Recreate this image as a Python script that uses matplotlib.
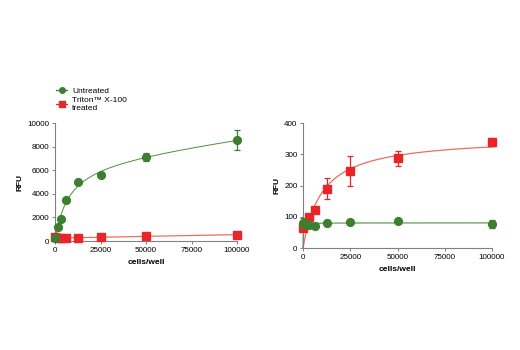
import numpy as np
import matplotlib
matplotlib.use("Agg")
import matplotlib.pyplot as plt
from matplotlib.lines import Line2D

plt.rcParams['font.family'] = ['Liberation Sans Narrow', 'Liberation Sans', 'DejaVu Sans']

cells = [0, 1562, 3125, 6250, 12500, 25000, 50000, 100000]

# Left panel
left_untreated = [250, 1200, 1850, 3450, 5000, 5600, 7100, 8550]
left_untreated_err = [0, 0, 0, 0, 0, 0, 350, 850]
left_triton = [300, 280, 250, 250, 230, 300, 400, 550]
left_triton_err = [0, 0, 0, 0, 0, 0, 0, 0]

# Right panel
right_untreated = [80, 78, 75, 72, 80, 82, 87, 78]
right_untreated_err = [15, 0, 0, 0, 10, 0, 0, 13]
right_triton = [65, 80, 100, 122, 190, 245, 287, 340]
right_triton_err = [10, 0, 0, 0, 33, 48, 23, 12]

GREEN = '#3c7f2f'
RED = '#e8262a'
GREEN_LINE = '#4f8f3a'
RED_LINE = '#f36b5a'
SPINE = '#808080'


def fit_hyper(x, y, linear=False):
    x = np.asarray(x, float)
    y = np.asarray(y, float)
    best = None
    for kd in np.logspace(1, 6, 600):
        cols = [x / (kd + x)]
        if linear:
            cols.append(x)
        A = np.column_stack(cols)
        coef, *_ = np.linalg.lstsq(A, y, rcond=None)
        r = np.sum((A @ coef - y) ** 2)
        if best is None or r < best[0]:
            best = (r, kd, coef)
    _, kd, coef = best

    def f(xx):
        out = coef[0] * xx / (kd + xx)
        if linear:
            out = out + coef[1] * xx
        return out
    return f


fig = plt.figure(figsize=(5.2, 3.5), dpi=100)
axL = fig.add_axes([0.1058, 0.3114, 0.35, 0.337])
axR = fig.add_axes([0.5827, 0.2914, 0.3635, 0.357])

xx = np.linspace(0, 100000, 800)


def style(ax, ylim, yticks):
    ax.set_xlim(0, 100000)
    ax.set_ylim(*ylim)
    ax.set_xticks([0, 25000, 50000, 75000, 100000])
    ax.set_yticks(yticks)
    for s in ['top', 'right']:
        ax.spines[s].set_visible(False)
    for s in ['left', 'bottom']:
        ax.spines[s].set_color(SPINE)
        ax.spines[s].set_linewidth(0.8)
    ax.tick_params(axis='both', labelsize=5.8, length=2.5, width=0.7,
                   color=SPINE, pad=1.5)
    ax.set_xlabel('cells/well', fontsize=6, fontweight='bold', labelpad=4)
    ax.set_ylabel('RFU', fontsize=6, fontweight='bold', labelpad=3)


MS = 5.6

# Left
fL_g = fit_hyper(cells, left_untreated, linear=True)
cL = np.polyfit(cells, left_triton, 1)
axL.plot(xx, fL_g(xx), color=GREEN_LINE, lw=0.7, zorder=2)
axL.plot(xx, np.polyval(cL, xx), color=RED_LINE, lw=0.9, zorder=2)
axL.errorbar(cells, left_triton, yerr=left_triton_err, fmt='s', color=RED,
             ms=MS, capsize=2.5, elinewidth=0.9, capthick=0.9, clip_on=False, zorder=3)
axL.errorbar(cells, left_untreated, yerr=left_untreated_err, fmt='o', color=GREEN,
             ms=MS, capsize=2.5, elinewidth=0.9, capthick=0.9, clip_on=False, zorder=4)
style(axL, (0, 10000), [0, 2000, 4000, 6000, 8000, 10000])

# Right
fR_r = fit_hyper(cells, right_triton)
fR_g = fit_hyper(cells, right_untreated)
axR.plot(xx, fR_g(xx), color=GREEN_LINE, lw=0.8, zorder=2, clip_on=False)
axR.plot(xx, fR_r(xx), color=RED_LINE, lw=0.9, zorder=2, clip_on=False)
axR.errorbar(cells, right_triton, yerr=right_triton_err, fmt='s', color=RED,
             ms=MS, capsize=2.5, elinewidth=0.9, capthick=0.9, clip_on=False, zorder=3)
axR.errorbar(cells, right_untreated, yerr=right_untreated_err, fmt='o', color=GREEN,
             ms=MS, capsize=2.5, elinewidth=0.9, capthick=0.9, clip_on=False, zorder=4)
style(axR, (0, 400), [0, 100, 200, 300, 400])

# Legend
handles = [
    Line2D([], [], color=GREEN, marker='o', ms=4, lw=0.9),
    Line2D([], [], color=RED, marker='s', ms=4, lw=0.9),
]
fig.legend(handles, ['Untreated', 'Triton\u2122 X-100\ntreated'],
           loc='upper left', bbox_to_anchor=(0.108, 0.752), frameon=False,
           fontsize=6, handlelength=1.3, handletextpad=0.6,
           labelspacing=0.25, borderaxespad=0, borderpad=0)

fig.savefig('out.png', dpi=100)
